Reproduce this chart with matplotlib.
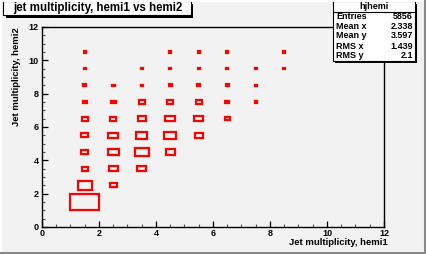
import matplotlib
matplotlib.use("Agg")
import matplotlib.pyplot as plt
from matplotlib.patches import Rectangle
from matplotlib.lines import Line2D
import numpy as np

# ---- data: bin centres (x = hemi1, y = hemi2) and bin contents ----
x_centers = [1.5, 1.5, 2.5,
             1.5, 2.5, 3.5,
             1.5, 2.5, 3.5, 4.5,
             1.5, 2.5, 3.5, 4.5, 5.5,
             1.5, 2.5, 3.5, 4.5, 5.5, 6.5,
             1.5, 2.5, 3.5, 4.5, 5.5, 6.5, 7.5,
             1.5, 2.5, 3.5, 4.5, 5.5, 6.5, 7.5,
             1.5, 3.5, 4.5, 5.5, 6.5, 7.5, 8.5,
             1.5, 4.5, 5.5, 6.5, 8.5]
y_centers = [1.5, 2.5, 2.5,
             3.5, 3.5, 3.5,
             4.5, 4.5, 4.5, 4.5,
             5.5, 5.5, 5.5, 5.5, 5.5,
             6.5, 6.5, 6.5, 6.5, 6.5, 6.5,
             7.5, 7.5, 7.5, 7.5, 7.5, 7.5, 7.5,
             8.5, 8.5, 8.5, 8.5, 8.5, 8.5, 8.5,
             9.5, 9.5, 9.5, 9.5, 9.5, 9.5, 9.5,
             10.5, 10.5, 10.5, 10.5, 10.5]
counts = [1727, 437, 104,
          85, 173, 173,
          104, 257, 397, 173,
          104, 199, 257, 323, 147,
          85, 85, 124, 199, 173, 54,
          40, 54, 69, 69, 69, 40, 8,
          19, 15, 12, 19, 19, 19, 8,
          9, 6, 7, 7, 7, 5, 5,
          8, 8, 8, 8, 7]

stats_labels = ["Entries", "Mean x", "Mean y", "RMS x", "RMS y"]
stats_values = ["5856", "2.338", "3.597", "1.439", "2.1"]

W, H = 427, 254
BG = "#f2f2f2"
FONT = "Liberation Sans"

fig = plt.figure(figsize=(W / 100, H / 100), dpi=100, facecolor=BG)

def fx(px):
    return px / W

def fy(py):
    return 1 - py / H

# canvas bevel border
fig.add_artist(Line2D([fx(0.5), fx(W - 0.5)], [fy(0.5), fy(0.5)], color="white", lw=1.5))
fig.add_artist(Line2D([fx(0.5), fx(0.5)], [fy(0.5), fy(H - 0.5)], color="white", lw=1.5))
fig.add_artist(Line2D([fx(1), fx(W - 1)], [fy(H - 1.5), fy(H - 1.5)], color="#888888", lw=2.2))
fig.add_artist(Line2D([fx(W - 1.5), fx(W - 1.5)], [fy(1), fy(H - 1)], color="#888888", lw=2.2))

L, R, T, B = 42, 384, 27, 227
ax = fig.add_axes([fx(L), fy(B), fx(R - L), (B - T) / H])
ax.set_facecolor(BG)
ax.set_xlim(0, 12)
ax.set_ylim(0, 12)

cmax = max(counts)
for xc, yc, c in zip(x_centers, y_centers, counts):
    s = np.sqrt(c / cmax)
    ax.add_patch(Rectangle((xc - s / 2, yc - s / 2), s, s, fill=False,
                           edgecolor="#ff0000", lw=1.6))

for sp in ax.spines.values():
    sp.set_color("black")
    sp.set_linewidth(1.0)

ax.set_xticks(np.arange(0, 13, 2))
ax.set_yticks(np.arange(0, 13, 2))
ax.set_xticks(np.arange(0, 12.01, 0.5), minor=True)
ax.set_yticks(np.arange(0, 12.01, 0.5), minor=True)
ax.tick_params(which="major", direction="in", length=4.5, width=0.9, color="black",
               labelsize=6.5)
ax.tick_params(axis="x", which="major", pad=1.5)
ax.tick_params(axis="y", which="major", pad=2.5)
ax.tick_params(which="minor", direction="in", length=2.2, width=0.8, color="#555555")
ax.set_xticklabels(["0", "2", "4", "6", "8", "10", "12"], fontfamily=FONT, fontweight="bold")
ax.set_yticklabels(["0", "2", "4", "6", "8", "10", "12"], fontfamily=FONT, fontweight="bold")
ax.get_yticklabels()[0].set_y(0.25)

fig.text(fx(388), fy(242.5), "Jet multiplicity, hemi1", ha="right", va="center",
         fontsize=6.8, fontweight="bold", fontfamily=FONT)
fig.text(fx(17), fy(27), "Jet multiplicity, hemi2", ha="center", va="top",
         rotation=90, fontsize=6.8, fontweight="bold", fontfamily=FONT)

def pbox(x0, y0, x1, y1, shadow=2.5):
    fig.add_artist(Rectangle((fx(x0 + shadow), fy(y1 + shadow)), fx(x1 - x0), (y1 - y0) / H,
                             facecolor="black", edgecolor="none"))
    fig.add_artist(Rectangle((fx(x0), fy(y1)), fx(x1 - x0), (y1 - y0) / H,
                             facecolor="white", edgecolor="black", lw=0.8))

# title box
pbox(3.5, 1.5, 191, 15)
fig.text(fx(98), fy(8.5), "jet multiplicity, hemi1 vs hemi2", ha="center", va="center",
         fontsize=8.3, fontweight="bold", fontfamily=FONT)

# stats box
pbox(333, 1.5, 415, 60.5)
fig.add_artist(Line2D([fx(333), fx(415)], [fy(11.5), fy(11.5)], color="black", lw=0.8))
fig.text(fx(374), fy(6.5), "hjhemi", ha="center", va="center",
         fontsize=6.5, fontweight="bold", fontfamily=FONT)
rows_y = [16.5, 26.5, 35, 46.5, 56]
for lab, val, yy in zip(stats_labels, stats_values, rows_y):
    fig.text(fx(336), fy(yy), lab, ha="left", va="center", fontsize=6.5,
             fontweight="bold", fontfamily=FONT)
    fig.text(fx(413), fy(yy), val, ha="right", va="center", fontsize=6.5,
             fontweight="bold", fontfamily=FONT)

fig.savefig("out.png", dpi=100, facecolor=BG)
